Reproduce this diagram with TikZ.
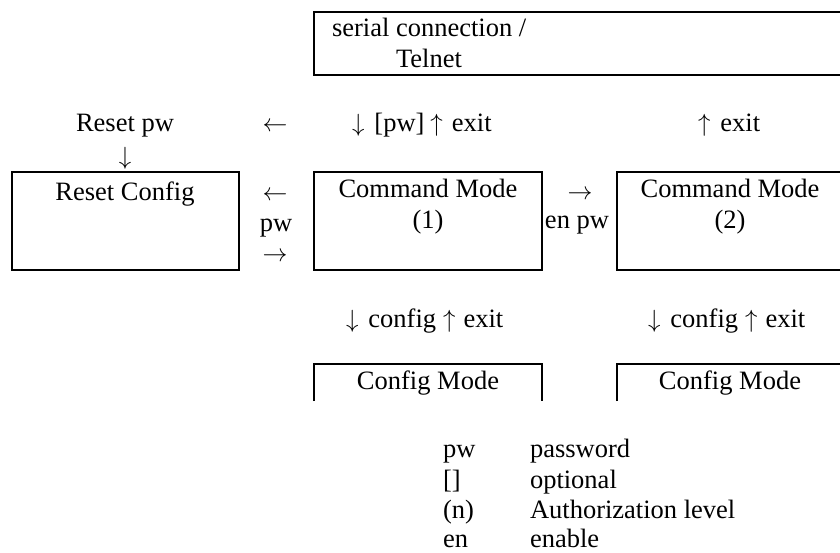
\documentclass[tikz,border=0pt]{standalone}
\usepackage{fontspec}
\setmainfont{Liberation Serif}
\newcommand{\dA}{$\downarrow$}
\newcommand{\uA}{$\uparrow$}
\newcommand{\lA}{$\leftarrow$}
\newcommand{\rA}{$\rightarrow$}
\begin{document}
\begin{tikzpicture}[x=1pt,y=-1pt,
  lbl/.style={inner sep=0pt,outer sep=0pt,font=\fontsize{26.5pt}{30pt}\selectfont},
  frame/.style={line width=2pt}]
\useasboundingbox (0,0) rectangle (840,552);
\clip (0,0) rectangle (840,552);
% boxes
\draw[frame] (314,11.5) rectangle (900,75);
\draw[frame] (12,172) rectangle (239,270);
\draw[frame] (314,172) rectangle (542,270);
\draw[frame] (617,172) rectangle (900,270);
\draw[frame] (314,401) -- (314,364) -- (542,364) -- (542,401);
\draw[frame] (617,401) -- (617,364) -- (900,364);
% serial box text
\node[lbl,anchor=base west] (ser1) at (332,36) {serial connection /};
\node[lbl,anchor=base west] (ser2) at (396,67) {Telnet};
% row 1
\node[lbl,anchor=base] (rpw) at (125,131) {Reset pw};
\node[lbl,anchor=base] (rpwa) at (125,164) {\dA};
\node[lbl,anchor=base] (la1) at (275,131) {\lA};
\node[lbl,anchor=base west] (pwex) at (352,131) {\dA\hspace{10pt}[pw]\hspace{6pt}\uA\hspace{9pt}exit};
\node[lbl,anchor=base west] (ex2) at (698,131) {\uA\hspace{10pt}exit};
% boxes text
\node[lbl,anchor=base] (rc) at (125,200) {Reset Config};
\node[lbl,anchor=base] (cm1) at (428,197) {Command Mode};
\node[lbl,anchor=base] (cm1n) at (428,228) {(1)};
\node[lbl,anchor=base] (cm2) at (730,197) {Command Mode};
\node[lbl,anchor=base] (cm2n) at (730,228) {(2)};
% between boxes
\node[lbl,anchor=base] (la2) at (275,200) {\lA};
\node[lbl,anchor=base] (pwm) at (276,231) {pw};
\node[lbl,anchor=base] (ra2) at (275,261) {\rA};
\node[lbl,anchor=base] (ra3) at (580,199) {\rA};
\node[lbl,anchor=base] (enpw) at (577,228) {en pw};
% config row
\node[lbl,anchor=base west] (cf1) at (346,327) {\dA\hspace{10pt}config\hspace{7pt}\uA\hspace{8pt}exit};
\node[lbl,anchor=base west] (cf2) at (648,327) {\dA\hspace{10pt}config\hspace{7pt}\uA\hspace{8pt}exit};
\node[lbl,anchor=base] (cfm1) at (428,389) {Config Mode};
\node[lbl,anchor=base] (cfm2) at (730,389) {Config Mode};
% legend
\node[lbl,anchor=base west] (k1) at (443,457) {pw};
\node[lbl,anchor=base west] (v1) at (530,457) {password};
\node[lbl,anchor=base west] (k2) at (443,488) {[]};
\node[lbl,anchor=base west] (v2) at (530,488) {optional};
\node[lbl,anchor=base west] (k3) at (443,518) {(n)};
\node[lbl,anchor=base west] (v3) at (530,518) {Authorization level};
\node[lbl,anchor=base west] (k4) at (443,547) {en};
\node[lbl,anchor=base west] (v4) at (530,547) {enable};
\end{tikzpicture}
\end{document}
